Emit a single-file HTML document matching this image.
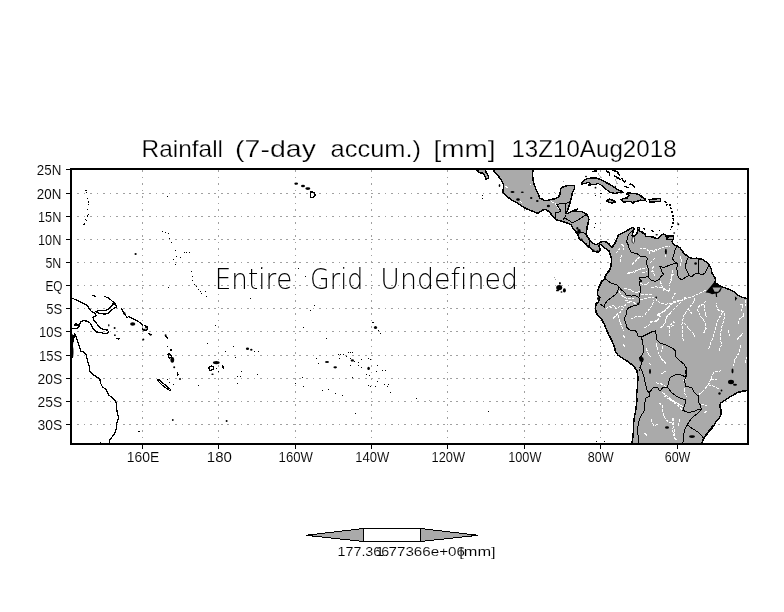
<!DOCTYPE html>
<html lang="en">
<head>
<meta charset="utf-8">
<title>Rainfall (7-day accum.) [mm] 13Z10Aug2018</title>
<style>
html,body{margin:0;padding:0;background:#fff;}
body{width:784px;height:612px;overflow:hidden;}
svg{display:block;}
text{font-family:"Liberation Sans","DejaVu Sans",sans-serif;fill:#000;font-variant-ligatures:none;font-kerning:none;}
.thin{font-family:"DejaVu Sans Light","DejaVu Sans","Liberation Sans",sans-serif;font-weight:200;}
.lab{stroke:#fff;stroke-width:0.1px;}
.ttl{stroke:#fff;stroke-width:0.25px;}
.coast{fill:none;stroke:#000;stroke-width:1.5;stroke-linejoin:round;stroke-linecap:round;}
.wp{fill:none;stroke:#000;stroke-width:1.25;stroke-linejoin:round;}
.bord{fill:none;stroke:#000;stroke-width:1;stroke-linejoin:round;}
.riv{fill:none;stroke:#fff;stroke-width:1;stroke-linejoin:round;stroke-dasharray:3 1;}
.land{fill:#aaaaaa;stroke:none;}
.grid{stroke:#a0a0a0;stroke-width:1;stroke-dasharray:1.75 4.793;fill:none;}
</style>
</head>
<body>
<svg width="784" height="612" viewBox="0 0 784 612">
<rect x="0" y="0" width="784" height="612" fill="#fff"/>
<defs><clipPath id="pc"><rect x="72" y="170" width="675" height="273"/></clipPath></defs>
<g class="grid" shape-rendering="crispEdges">
<line x1="77" y1="193.5" x2="747" y2="193.5"/>
<line x1="77" y1="216.5" x2="747" y2="216.5"/>
<line x1="77" y1="239.5" x2="747" y2="239.5"/>
<line x1="77" y1="262.5" x2="747" y2="262.5"/>
<line x1="77" y1="285.5" x2="747" y2="285.5"/>
<line x1="77" y1="308.5" x2="747" y2="308.5"/>
<line x1="77" y1="331.5" x2="747" y2="331.5"/>
<line x1="77" y1="355.5" x2="747" y2="355.5"/>
<line x1="77" y1="378.5" x2="747" y2="378.5"/>
<line x1="77" y1="401.5" x2="747" y2="401.5"/>
<line x1="77" y1="424.5" x2="747" y2="424.5"/>
<line x1="142.5" y1="170" x2="142.5" y2="443" stroke-dasharray="1.5 5"/>
<line x1="218.5" y1="170" x2="218.5" y2="443" stroke-dasharray="1.5 5"/>
<line x1="295.5" y1="170" x2="295.5" y2="443" stroke-dasharray="1.5 5"/>
<line x1="371.5" y1="170" x2="371.5" y2="443" stroke-dasharray="1.5 5"/>
<line x1="447.5" y1="170" x2="447.5" y2="443" stroke-dasharray="1.5 5"/>
<line x1="524.5" y1="170" x2="524.5" y2="443" stroke-dasharray="1.5 5"/>
<line x1="600.5" y1="170" x2="600.5" y2="443" stroke-dasharray="1.5 5"/>
<line x1="677.5" y1="170" x2="677.5" y2="443" stroke-dasharray="1.5 5"/>
</g>
<g clip-path="url(#pc)">
<g class="land">
<polygon points="493.0,168.0 493.0,169.8 495.5,172.7 498.7,176.5 501.3,180.3 503.4,184.1 503.4,188.6 502.5,191.1 503.8,193.7 506.4,195.6 508.3,197.5 510.8,199.4 514.0,201.4 517.2,203.0 520.4,205.2 523.6,207.1 526.8,209.0 530.0,210.3 533.8,211.6 536.3,212.8 538.5,213.2 540.5,211.5 542.5,210.0 545.0,209.4 547.5,210.5 549.5,212.3 551.5,214.6 553.1,216.5 554.6,218.4 556.9,219.9 560.0,220.7 562.7,221.5 564.6,222.2 566.9,223.0 569.6,223.8 571.5,225.3 572.6,227.9 574.9,230.6 577.1,233.3 578.5,236.0 578.9,238.2 580.7,240.0 583.4,241.8 586.1,244.1 587.5,246.3 589.7,247.7 591.5,249.0 592.9,251.2 595.5,251.7 598.7,252.1 600.5,250.3 599.6,248.1 598.7,245.9 600.5,244.5 603.0,246.5 605.4,248.5 607.7,250.0 609.0,250.5 609.5,252.6 610.4,255.3 611.3,258.4 611.3,262.0 611.0,265.6 610.4,268.3 609.0,271.0 608.3,271.6 606.4,274.1 605.1,276.7 604.2,279.2 601.9,281.1 600.0,284.9 598.3,288.8 597.4,292.6 597.4,295.0 600.0,297.6 598.7,301.4 596.1,303.9 595.5,307.8 596.1,312.9 598.7,316.0 601.9,319.9 604.4,324.3 606.4,329.4 608.3,333.9 610.8,338.4 612.7,342.8 614.6,347.3 615.3,351.1 617.8,355.0 622.3,358.1 627.4,361.3 632.5,365.2 634.8,367.8 637.0,370.8 638.0,377.2 637.6,383.6 637.2,390.0 636.4,395.1 637.0,400.2 636.4,405.3 635.5,411.6 634.2,418.0 633.4,424.4 633.4,430.8 632.9,437.2 631.9,443.5 631.8,446.0 701.5,446.0 701.9,442.9 703.2,439.7 705.1,436.5 707.6,433.3 710.8,429.5 714.0,425.7 715.9,421.8 719.1,418.0 721.0,414.8 721.0,410.4 719.7,405.9 721.0,402.7 724.2,400.8 728.7,397.6 733.1,395.1 737.6,392.5 742.7,391.2 747.2,390.6 750.0,390.4 750.0,299.5 747.6,299.0 746.3,298.3 741.8,297.1 738.0,295.2 734.2,292.0 729.1,289.4 724.0,287.5 718.9,285.6 715.1,282.4 715.7,279.2 713.8,276.0 711.9,272.8 711.2,269.0 709.3,265.2 706.1,262.0 702.3,259.4 697.2,258.2 692.1,258.4 688.3,256.9 684.4,253.7 681.9,250.5 680.0,247.9 677.4,246.1 674.7,245.2 672.9,243.8 672.0,241.6 673.3,239.3 673.3,235.7 669.3,236.2 667.5,238.0 666.2,236.6 664.8,234.4 662.1,234.8 660.3,236.6 658.5,238.4 655.8,238.4 653.1,237.1 649.5,236.6 645.9,236.2 645.0,233.9 642.3,232.6 639.7,231.2 639.2,227.2 637.4,227.6 637.9,229.9 637.0,233.5 634.5,236.0 632.0,235.7 632.9,232.6 634.3,228.5 632.5,227.6 630.2,228.5 627.5,230.3 624.4,232.1 621.7,233.5 618.5,234.8 617.1,238.5 615.8,241.8 614.0,244.5 612.2,247.2 610.8,246.8 609.5,244.5 607.2,242.3 604.5,241.5 601.4,241.8 599.1,243.2 596.4,244.5 594.2,244.1 592.0,242.3 589.7,240.0 587.9,237.3 586.1,234.6 586.6,231.5 587.0,227.0 588.0,224.2 588.4,221.5 588.8,219.2 588.4,216.9 587.2,214.9 585.3,213.4 583.0,212.1 580.7,211.3 577.6,211.5 574.6,211.5 576.1,210.3 577.6,209.2 575.3,209.6 573.0,211.1 570.7,211.9 568.4,213.0 566.1,213.8 566.9,211.5 568.0,209.2 568.8,206.9 569.6,204.6 570.3,202.3 570.7,200.0 571.5,197.7 571.9,195.4 572.3,193.1 573.4,191.1 574.2,189.2 574.6,186.9 573.8,185.5 570.7,185.4 567.6,185.5 564.6,186.5 561.9,187.3 560.6,188.8 560.4,191.5 560.0,194.2 558.8,196.5 556.9,198.0 553.8,199.0 550.8,199.6 547.7,200.4 544.6,200.7 542.3,199.2 540.0,198.4 538.9,195.6 537.3,192.4 535.7,188.6 534.4,184.8 533.4,181.6 532.8,177.8 532.5,173.9 533.1,169.8 533.1,168.0"/>
<polygon points="477.0,168.0 477.0,170.0 479.6,172.7 482.8,173.3 484.7,175.8 486.0,179.0 488.5,178.4 488.5,175.8 486.6,173.3 485.3,170.0 485.3,168.0"/>
<polygon points="581.3,184.1 583.6,180.6 587.6,178.6 592.2,177.8 597.4,178.3 602.0,180.1 606.0,182.4 610.0,184.6 613.5,186.9 616.9,189.2 620.9,191.0 623.2,192.3 623.2,192.3 619.8,192.7 615.2,193.3 610.6,192.7 607.7,190.4 604.3,188.1 601.4,185.2 598.0,183.5 595.1,184.6 591.1,184.1 588.2,182.4 585.3,183.5 581.3,184.1"/>
<polygon points="606.6,200.7 609.4,199.2 612.9,200.1 615.2,201.9 612.3,203.0 608.9,202.4"/>
<polygon points="620.9,199.6 624.4,198.4 627.2,197.9 629.0,195.6 626.7,193.8 628.4,192.7 632.4,193.5 637.0,193.8 640.4,195.6 642.7,197.3 645.0,199.0 643.9,200.7 640.4,200.1 637.0,201.3 634.1,201.9 633.0,203.6 631.8,201.9 628.4,201.3 625.5,201.9 623.2,201.9"/>
<polygon points="649.1,199.6 660.5,198.4 660.5,201.3 649.6,202.2"/>
</g>
<ellipse cx="633.3" cy="240" rx="1.3" ry="3.2" fill="#fff" stroke="#000" stroke-width="0.8"/>
<g class="riv" shape-rendering="crispEdges">
<polyline points="529.9,184.1 531.2,185.4"/>
<polyline points="505.7,186.0 508.3,188.6"/>
<polyline points="519.7,200.7 522.3,203.3"/>
<polyline points="551.5,201.5 555.4,203.8 559.2,209.2"/>
<polyline points="621.7,244.3 623.5,246.1 623.5,250.1"/>
<polyline points="621.2,255.0 620.8,259.5 620.6,263.1"/>
<polyline points="616.3,253.2 619.0,249.6 620.3,247.9"/>
<polyline points="639.6,248.3 643.2,249.2 645.9,247.9 647.7,250.1 651.3,250.6 654.9,250.1 657.6,249.6 660.3,248.3 663.9,247.0 667.5,246.5 670.2,246.1"/>
<polyline points="665.7,254.1 665.3,256.8"/>
<polyline points="649.0,250.6 649.5,254.6"/>
<polyline points="632.0,264.5 635.2,261.3 638.8,257.7 640.5,256.4"/>
<polyline points="627.4,274.1 633.8,271.6 641.4,268.4 647.8,267.7"/>
<polyline points="650.0,263.0 653.0,260.0 656.0,257.5"/>
<polyline points="655.0,276.0 652.0,270.0 654.0,265.0"/>
<polyline points="671.0,281.0 671.7,276.0 673.0,269.6"/>
<polyline points="680.0,255.6 681.3,260.7 680.6,267.1"/>
<polyline points="652.0,252.0 657.0,250.0"/>
<polyline points="627.1,274.1 629.7,272.1 633.8,272.6 636.8,270.6 640.9,269.0"/>
<polyline points="641.9,272.6 645.0,272.1 647.0,271.1"/>
<polyline points="651.1,271.1 654.2,271.6"/>
<polyline points="639.9,283.8 644.0,284.3 647.0,284.8 648.6,282.3"/>
<polyline points="651.1,287.4 656.2,286.9 661.3,287.4 665.4,289.4 669.5,291.5"/>
<polyline points="669.5,291.5 669.0,286.4 670.5,281.3 672.0,276.2 674.6,273.1"/>
<polyline points="623.6,288.4 627.6,288.9 630.7,289.9 633.8,292.0 636.8,292.5 639.9,291.0"/>
<polyline points="640.9,294.5 645.0,294.0 649.1,294.5 653.1,295.0"/>
<polyline points="639.9,300.1 644.0,299.1 648.0,298.1 652.1,297.1 655.2,297.6 657.2,300.7 661.3,303.2 666.4,304.2 670.5,303.2 676.0,302.2 682.0,300.0 688.0,298.0 694.0,296.0 700.0,293.0 706.0,290.0"/>
<polyline points="619.0,291.5 621.0,295.0 624.6,297.6 628.7,298.6 633.8,298.1"/>
<polyline points="625.1,300.7 629.7,301.2 633.8,302.7 636.3,303.7"/>
<polyline points="606.2,308.8 608.8,306.3 611.3,307.3 613.3,305.2 616.4,308.8 620.5,305.8 623.6,307.3 626.6,303.2 630.7,301.7"/>
<polyline points="613.3,318.5 616.4,314.9 620.5,311.9 622.5,308.8"/>
<polyline points="617.9,314.9 619.0,319.0 620.5,323.1 622.0,327.2 623.5,331.0"/>
<polyline points="630.7,319.0 634.8,317.0 638.9,316.5 642.9,316.0"/>
<polyline points="645.0,314.4 648.0,310.9 651.1,306.8 653.1,302.7 654.2,299.6"/>
<polyline points="657.2,316.0 661.3,312.9 665.4,310.9 667.4,307.8 669.5,304.7"/>
<polyline points="644.0,327.7 648.0,326.2 650.1,323.1 654.2,321.1 657.2,320.6 659.3,319.0"/>
<polyline points="660.3,328.2 663.3,325.1 665.4,321.1 666.4,317.0 669.5,313.9 672.5,312.9"/>
<polyline points="667.4,326.2 670.5,327.2 673.6,325.1"/>
<polyline points="672.0,298.6 674.1,294.5 676.0,292.5"/>
<polyline points="623.0,335.0 625.0,338.0"/>
<polyline points="623.0,344.0 625.5,347.5"/>
<polyline points="660.0,281.0 662.0,286.0 664.0,292.0"/>
<polyline points="650.0,321.8 656.4,321.8 660.2,316.7 657.7,314.1 662.8,311.6 669.1,306.5 674.2,301.4 681.9,300.1 685.7,296.9"/>
<polyline points="665.3,323.1 666.6,316.7 670.4,312.9 675.5,307.8 679.3,303.9 683.2,300.1"/>
<polyline points="683.2,340.9 682.5,333.3 681.9,324.3 683.8,315.4 688.3,309.0 693.4,302.7 695.3,297.6"/>
<polyline points="675.5,323.1 673.0,321.8 669.1,326.9 669.8,335.8"/>
<polyline points="688.3,309.0 692.1,314.1"/>
<polyline points="684.4,323.1 688.3,328.2 693.4,333.3 694.6,337.1"/>
<polyline points="703.6,333.3 706.1,328.2 704.8,321.8 701.0,316.7 697.8,310.3 698.5,306.5 703.6,303.9 706.1,300.1"/>
<polyline points="704.2,304.6 704.8,310.3 706.1,316.7"/>
<polyline points="708.7,348.6 712.5,338.4 715.1,329.4 717.6,320.5 721.4,314.1 723.3,311.6 717.6,309.7 716.3,302.7"/>
<polyline points="718.9,351.1 721.4,344.7 720.2,337.1 721.4,328.2 724.0,319.2 724.0,312.9"/>
<polyline points="733.5,366.4 734.8,360.0 739.3,352.4 740.6,344.7"/>
<polyline points="736.7,339.6 743.1,333.3"/>
<polyline points="738.0,324.3 739.3,319.2 744.4,315.4 741.8,310.3 743.1,303.9 739.3,305.2"/>
<polyline points="745.0,363.0 747.0,357.0"/>
<polyline points="656.4,343.5 657.7,351.1 661.5,358.8 666.6,363.9"/>
<polyline points="662.8,346.0 661.5,352.4"/>
<polyline points="646.0,348.0 648.0,353.0 650.5,357.0"/>
<polyline points="649.0,363.0 652.0,366.0"/>
<polyline points="661.2,374.0 666.3,370.8"/>
<polyline points="656.1,382.9 662.5,384.2 666.3,386.8"/>
<polyline points="662.5,392.5 668.9,397.6 675.3,402.1 682.9,406.5"/>
<polyline points="663.8,395.7 671.4,400.8 679.1,406.5 682.9,410.4"/>
<polyline points="658.7,402.7 662.5,405.3 662.5,411.6 665.0,418.0 668.9,423.1 671.4,421.8 674.0,418.0"/>
<polyline points="651.0,419.3 653.6,425.7 658.7,424.4"/>
<polyline points="671.4,421.8 674.0,428.2 674.0,435.9 676.5,440.3"/>
<polyline points="644.6,433.3 648.5,436.5"/>
<polyline points="699.3,394.4 703.8,390.0 708.3,384.9 710.8,379.8 712.1,374.7 714.6,372.1 721.0,370.8"/>
<polyline points="710.8,379.8 717.2,379.1"/>
<polyline points="708.3,384.9 713.4,386.1 718.5,388.7"/>
<polyline points="701.3,404.6 707.0,405.3"/>
<polyline points="704.4,412.3 707.0,411.6"/>
<polyline points="670.0,398.9 676.4,402.7 682.8,406.5"/>
<polyline points="672.6,418.0 673.8,423.1 672.6,430.8 675.1,439.7"/>
<polyline points="679.6,419.3 677.7,426.9"/>
<polyline points="683.0,381.0 686.0,379.0"/>
<polyline points="684.5,388.5 685.0,394.0 687.0,396.5"/>
<polyline points="728.0,330.0 730.0,336.0"/>
<polyline points="745.0,300.0 746.0,306.0"/>
</g>
<g class="bord" shape-rendering="crispEdges">
<polyline points="555.0,217.6 555.0,213.0 560.4,211.5 560.4,210.0 556.5,204.2 565.3,203.4"/>
<polyline points="565.3,203.4 565.3,213.8"/>
<polyline points="565.3,203.4 567.0,203.0 569.6,201.5"/>
<polyline points="566.1,214.9 564.6,217.6 562.5,220.5"/>
<polyline points="564.6,217.6 567.6,219.9 570.7,221.5 572.3,223.0"/>
<polyline points="572.3,223.0 574.6,221.5 578.4,219.9 581.5,217.6 583.8,216.1 586.9,215.3"/>
<polyline points="577.4,232.6 582.0,232.9 587.0,233.2"/>
<polyline points="589.7,240.0 590.0,244.0 589.7,247.7"/>
<polyline points="626.6,241.6 628.4,245.2 629.3,248.8 631.1,251.9 634.3,253.2 637.9,254.1 640.5,256.4 645.9,256.8 647.3,258.6 646.6,262.2 647.2,266.7 648.0,268.0"/>
<polyline points="618.5,234.8 621.7,233.5 627.5,230.3 632.5,227.6 634.3,228.5 630.2,232.6 628.4,234.8 627.5,238.0 626.6,241.6"/>
<polyline points="648.0,268.0 649.1,274.1 648.0,276.7 639.9,277.7 639.9,279.2 641.9,281.8 639.9,281.3 639.4,284.3 640.9,288.4 639.9,293.5 638.9,297.6"/>
<polyline points="605.2,278.7 609.3,281.8 612.3,283.8 616.4,284.3 618.4,286.4"/>
<polyline points="618.4,286.4 621.5,289.9 624.6,292.5 626.6,295.6 631.7,296.1 635.3,295.6 638.9,297.6"/>
<polyline points="618.4,286.4 617.9,291.5 615.4,294.5 611.3,297.6 607.2,300.7 605.2,303.7 604.2,307.3 600.5,304.0"/>
<polyline points="638.9,297.6 639.4,300.7 638.9,304.2 636.8,305.2 631.7,306.3 628.1,308.3 626.6,310.9 626.1,314.9 624.6,318.0 625.1,322.1 626.6,325.1 626.8,327.5 629.9,330.1 635.0,330.7 637.0,332.6 637.0,335.8 641.4,337.1 646.5,334.5 651.6,332.0 655.7,330.7"/>
<polyline points="655.7,330.7 656.4,339.0 659.6,342.8 665.3,344.7 670.4,347.3 674.9,349.8 676.1,357.5 680.6,361.3 684.4,364.5 686.4,369.0 685.5,372.0 686.7,376.6"/>
<polyline points="641.4,337.1 642.7,342.2 643.3,347.3 643.3,352.4 641.4,356.2 639.5,358.1 642.7,360.7 641.4,363.9 640.2,367.7 639.5,371.0"/>
<polyline points="639.5,367.0 642.1,370.8 644.0,377.2 645.3,383.6 647.2,390.6 649.1,392.5 649.1,396.3 645.3,398.3 644.9,404.0 644.6,410.4 642.1,414.2 639.5,419.3 638.3,424.4 637.0,430.8 638.3,436.5 638.9,445.0"/>
<polyline points="649.1,392.5 653.6,387.4 658.0,388.0 659.9,391.2 662.5,388.0 667.6,387.4"/>
<polyline points="667.6,387.4 668.9,381.0 670.2,377.2 675.3,374.9 680.4,374.7 684.8,376.6"/>
<polyline points="686.0,367.0 686.6,373.4 684.7,379.8 685.3,386.1 692.3,388.0 694.2,392.5 698.1,395.7 698.7,402.7 700.6,405.3 701.2,409.7"/>
<polyline points="667.6,387.4 671.4,392.5 677.7,397.0 686.0,400.2 684.7,405.3 682.8,410.4 687.9,412.3 694.2,411.6 698.7,409.1 701.2,409.7"/>
<polyline points="701.2,409.7 697.4,413.6 693.0,416.7 689.1,421.8 687.2,425.0 684.7,429.5 683.4,435.9 682.8,445.0"/>
<polyline points="687.2,425.0 693.0,428.9 698.7,432.7 701.9,435.9 703.4,438.4"/>
<polyline points="676.9,246.1 675.1,249.6 674.2,253.2 672.3,258.8 674.9,262.0 677.4,263.3"/>
<polyline points="677.4,263.3 676.8,268.4 677.4,273.5 678.7,277.9 681.9,279.8 685.7,277.3 688.9,275.4"/>
<polyline points="688.3,256.9 686.4,262.0 685.1,267.1 687.6,272.2 688.9,275.4"/>
<polyline points="688.9,275.4 692.1,276.7 694.0,274.1 698.5,273.5"/>
<polyline points="699.1,258.8 698.5,263.3 698.5,268.4 698.5,273.5"/>
<polyline points="698.5,273.5 702.3,274.7 705.5,272.8 706.8,269.0 709.3,265.2"/>
<polyline points="677.4,263.3 673.0,263.9 667.9,265.8 663.4,267.7 658.9,265.8 660.8,268.0 661.3,271.1 663.9,274.6 661.3,276.2 659.3,279.2 655.2,281.3 651.1,280.2 648.0,276.7"/>
</g>
<g class="coast" shape-rendering="crispEdges">
<polyline points="493.0,168.0 493.0,169.8 495.5,172.7 498.7,176.5 501.3,180.3 503.4,184.1 503.4,188.6 502.5,191.1 503.8,193.7 506.4,195.6 508.3,197.5 510.8,199.4 514.0,201.4 517.2,203.0 520.4,205.2 523.6,207.1 526.8,209.0 530.0,210.3 533.8,211.6 536.3,212.8 538.5,213.2 540.5,211.5 542.5,210.0 545.0,209.4 547.5,210.5 549.5,212.3 551.5,214.6 553.1,216.5 554.6,218.4 556.9,219.9 560.0,220.7 562.7,221.5 564.6,222.2 566.9,223.0 569.6,223.8 571.5,225.3 572.6,227.9 574.9,230.6 577.1,233.3 578.5,236.0 578.9,238.2 580.7,240.0 583.4,241.8 586.1,244.1 587.5,246.3 589.7,247.7 591.5,249.0 592.9,251.2 595.5,251.7 598.7,252.1 600.5,250.3 599.6,248.1 598.7,245.9 600.5,244.5 603.0,246.5 605.4,248.5 607.7,250.0 609.0,250.5 609.5,252.6 610.4,255.3 611.3,258.4 611.3,262.0 611.0,265.6 610.4,268.3 609.0,271.0 608.3,271.6 606.4,274.1 605.1,276.7 604.2,279.2 601.9,281.1 600.0,284.9 598.3,288.8 597.4,292.6 597.4,295.0 600.0,297.6 598.7,301.4 596.1,303.9 595.5,307.8 596.1,312.9 598.7,316.0 601.9,319.9 604.4,324.3 606.4,329.4 608.3,333.9 610.8,338.4 612.7,342.8 614.6,347.3 615.3,351.1 617.8,355.0 622.3,358.1 627.4,361.3 632.5,365.2 634.8,367.8 637.0,370.8 638.0,377.2 637.6,383.6 637.2,390.0 636.4,395.1 637.0,400.2 636.4,405.3 635.5,411.6 634.2,418.0 633.4,424.4 633.4,430.8 632.9,437.2 631.9,443.5 631.8,446.0"/>
<polyline points="701.5,446.0 701.9,442.9 703.2,439.7 705.1,436.5 707.6,433.3 710.8,429.5 714.0,425.7 715.9,421.8 719.1,418.0 721.0,414.8 721.0,410.4 719.7,405.9 721.0,402.7 724.2,400.8 728.7,397.6 733.1,395.1 737.6,392.5 742.7,391.2 747.2,390.6 750.0,390.4"/>
<polyline points="750.0,299.5 747.6,299.0 746.3,298.3 741.8,297.1 738.0,295.2 734.2,292.0 729.1,289.4 724.0,287.5 718.9,285.6 715.1,282.4 715.7,279.2 713.8,276.0 711.9,272.8 711.2,269.0 709.3,265.2 706.1,262.0 702.3,259.4 697.2,258.2 692.1,258.4 688.3,256.9 684.4,253.7 681.9,250.5 680.0,247.9 677.4,246.1 674.7,245.2 672.9,243.8 672.0,241.6 673.3,239.3 673.3,235.7 669.3,236.2 667.5,238.0 666.2,236.6 664.8,234.4 662.1,234.8 660.3,236.6 658.5,238.4 655.8,238.4 653.1,237.1 649.5,236.6 645.9,236.2 645.0,233.9 642.3,232.6 639.7,231.2 639.2,227.2 637.4,227.6 637.9,229.9 637.0,233.5 634.5,236.0 632.0,235.7 632.9,232.6 634.3,228.5 632.5,227.6 630.2,228.5 627.5,230.3 624.4,232.1 621.7,233.5 618.5,234.8 617.1,238.5 615.8,241.8 614.0,244.5 612.2,247.2 610.8,246.8 609.5,244.5 607.2,242.3 604.5,241.5 601.4,241.8 599.1,243.2 596.4,244.5 594.2,244.1 592.0,242.3 589.7,240.0 587.9,237.3 586.1,234.6 586.6,231.5 587.0,227.0 588.0,224.2 588.4,221.5 588.8,219.2 588.4,216.9 587.2,214.9 585.3,213.4 583.0,212.1 580.7,211.3 577.6,211.5 574.6,211.5 576.1,210.3 577.6,209.2 575.3,209.6 573.0,211.1 570.7,211.9 568.4,213.0 566.1,213.8 566.9,211.5 568.0,209.2 568.8,206.9 569.6,204.6 570.3,202.3 570.7,200.0 571.5,197.7 571.9,195.4 572.3,193.1 573.4,191.1 574.2,189.2 574.6,186.9 573.8,185.5 570.7,185.4 567.6,185.5 564.6,186.5 561.9,187.3 560.6,188.8 560.4,191.5 560.0,194.2 558.8,196.5 556.9,198.0 553.8,199.0 550.8,199.6 547.7,200.4 544.6,200.7 542.3,199.2 540.0,198.4 538.9,195.6 537.3,192.4 535.7,188.6 534.4,184.8 533.4,181.6 532.8,177.8 532.5,173.9 533.1,169.8 533.1,168.0"/>
<polyline points="477.0,168.0 477.0,170.0 479.6,172.7 482.8,173.3 484.7,175.8 486.0,179.0 488.5,178.4 488.5,175.8 486.6,173.3 485.3,170.0 485.3,168.0"/>
<polyline points="581.3,184.1 583.6,180.6 587.6,178.6 592.2,177.8 597.4,178.3 602.0,180.1 606.0,182.4 610.0,184.6 613.5,186.9 616.9,189.2 620.9,191.0 623.2,192.3"/>
<polyline points="712.6,426.2 709.2,430.6 705.8,435.0 703.0,439.6"/>
<polyline points="592.8,171.4 596.2,170.9"/>
<polyline points="606.6,170.9 609.4,173.2 609.4,175.5"/>
<polyline points="612.9,170.3 617.5,172.0 619.2,174.9"/>
<polyline points="614.6,176.0 620.4,179.5"/>
<polyline points="622.1,178.9 624.4,182.4 625.5,180.6"/>
<polyline points="624.9,186.4 627.8,187.5"/>
<polyline points="630.1,184.1 633.0,185.2 634.7,186.9"/>
<polyline points="588.2,185.2 590.5,185.2"/>
<polygon points="606.6,200.7 609.4,199.2 612.9,200.1 615.2,201.9 612.3,203.0 608.9,202.4"/>
<polygon points="620.9,199.6 624.4,198.4 627.2,197.9 629.0,195.6 626.7,193.8 628.4,192.7 632.4,193.5 637.0,193.8 640.4,195.6 642.7,197.3 645.0,199.0 643.9,200.7 640.4,200.1 637.0,201.3 634.1,201.9 633.0,203.6 631.8,201.9 628.4,201.3 625.5,201.9 623.2,201.9"/>
<polygon points="649.1,199.6 660.5,198.4 660.5,201.3 649.6,202.2"/>
</g>
<g class="wp" shape-rendering="crispEdges">
<polyline points="69.0,297.2 71.8,298.2 76.9,300.1 82.0,302.7 87.1,305.2 89.0,308.4 91.6,311.6 95.4,313.5 96.1,316.0 92.9,317.3 93.5,319.9 96.1,322.4 98.0,325.6 100.5,328.2 103.7,329.4 107.5,330.1 108.8,332.6 105.6,333.9 101.2,332.6 96.7,332.0 93.5,329.4 91.6,325.6 89.7,322.4 86.5,321.1 83.3,320.5 80.8,321.8 79.5,325.0 75.7,323.7 74.4,325.0 79.5,326.3 76.9,328.2 72.5,328.4 69.0,328.6"/>
<polyline points="95.4,311.6 99.9,310.3 105.0,310.9 108.8,309.0 112.0,305.8 112.6,303.9 115.8,304.6 116.5,307.1 113.9,308.4 111.4,310.3 108.8,312.9 105.0,314.1 99.9,313.5 95.4,311.6"/>
<polyline points="104.4,296.3 108.8,298.2 112.6,301.4 115.8,304.6"/>
<polyline points="91.6,295.3 96.0,296.3"/>
<polyline points="121.6,308.4 123.5,312.9 126.0,316.0 127.3,318.0"/>
<polyline points="127.9,316.0 131.8,318.0 136.9,320.5 140.7,323.1 142.6,325.6"/>
<polyline points="142.0,328.8 145.8,330.7 147.7,328.8"/>
<polyline points="144.5,325.0 147.1,326.9 147.7,329.4"/>
<polyline points="148.4,333.3 151.5,335.2"/>
<polyline points="116.5,337.7 118.4,339.4 120.5,337.7"/>
<polyline points="74.4,333.3 75.7,335.8 76.9,339.0 78.2,343.5 79.5,347.3 80.8,351.1 83.3,351.8 85.9,354.3 87.1,358.8 88.4,363.9 89.4,367.0 89.7,371.5 92.2,374.0 96.1,376.6 99.9,379.1 100.5,382.9 102.4,386.8 105.6,389.3 107.5,391.9 108.8,395.1 112.0,397.6 115.2,400.8 116.5,404.0 116.5,409.1 117.7,413.6 118.4,418.0 117.1,421.8 116.5,426.3 115.8,430.8 113.9,434.6 111.4,437.8 109.5,440.3 108.8,445.0"/>
<polyline points="74.4,333.3 73.8,338.4 72.5,343.5 72.0,350.0 72.0,358.0"/>
<polyline points="157.4,378.7 160.0,380.5 164.0,384.0 168.0,387.5 171.0,389.9 169.5,390.3 166.0,388.0 162.0,385.0 158.5,381.5 157.4,378.7"/>
<polyline points="165.3,335.0 167.9,339.1"/>
<polyline points="171.0,348.7 171.0,351.3"/>
<polyline points="167.9,353.8 169.1,358.3 171.7,357.0 170.0,354.0 167.9,353.8"/>
<polyline points="177.4,371.7 178.1,375.5"/>
<polyline points="208.7,367.8 211.2,365.9 213.8,367.2 213.1,369.7 209.9,370.4 208.7,367.8"/>
<polyline points="222.7,364.6 223.3,369.1"/>
<polyline points="310.2,191.8 313.7,192.2 315.6,195.2 312.9,197.5 310.2,197.5 310.2,191.8"/>
<polyline points="666.1,236.1 673.2,235.5 673.4,239.3 666.8,239.9 666.1,236.1"/>
<polyline points="642.8,228.5 645.0,229.0"/>
<polyline points="650.9,230.8 654.0,231.2"/>
<polyline points="640.0,196.6 643.8,197.8 645.7,201.0"/>
<polyline points="581.3,184.1 585.3,183.5 588.2,182.4 591.1,184.1 595.1,184.6 598.0,183.5 601.4,185.2 604.3,188.1 607.7,190.4 610.6,192.7 615.2,193.3 619.8,192.7 623.2,192.3"/>
</g>
<g fill="none" stroke="#000" stroke-width="1.6" stroke-dasharray="2.2 1.6" shape-rendering="crispEdges">
<polyline points="664.9,201.0 667.4,205.5"/>
<polyline points="670.0,203.6 670.6,207.4 671.9,210.6 673.2,217.0 673.4,220.8 672.5,225.3 670.6,229.7"/>
</g>
<g fill="#000">
<polygon points="705.5,292.5 708.0,289.5 711.0,286.0 715.4,280.5 716.1,284.0 721.7,286.8 721.7,288.2 720.3,291.5 718.2,293.0 716.8,293.5 717.2,297.0 716.0,297.0 715.6,293.6 712.0,294.2 710.0,293.2 708.0,292.8"/>
<polygon points="734.8,296.2 737.3,298.3 735.0,301.0 735.0,297.0"/>
</g>
<g fill="#aaaaaa">
<polygon points="712.5,287.4 721.0,287.4 718.2,291.8 714.6,291.8"/>
</g>
<g fill="#000">
<ellipse cx="581.4" cy="239.8" rx="1.3" ry="1.3"/>
<ellipse cx="588.3" cy="246.2" rx="1.4" ry="1.3"/>
<ellipse cx="593.5" cy="250.6" rx="1.2" ry="1"/>
<ellipse cx="597.5" cy="251.2" rx="1.2" ry="0.9"/>
<ellipse cx="512.5" cy="192" rx="2" ry="1"/>
<ellipse cx="522.3" cy="192.2" rx="1.5" ry="0.7"/>
<ellipse cx="518" cy="199.5" rx="1.8" ry="1.2"/>
<ellipse cx="531.2" cy="198" rx="1.2" ry="1"/>
<ellipse cx="537.3" cy="201" rx="1.3" ry="1"/>
<ellipse cx="548.4" cy="206" rx="1.6" ry="1.2"/>
<ellipse cx="499.5" cy="185.5" rx="0.8" ry="1.6"/>
<ellipse cx="579" cy="231.5" rx="1.8" ry="2.4"/>
<ellipse cx="577.3" cy="228.3" rx="1" ry="1.2"/>
<ellipse cx="615.3" cy="186.6" rx="0.8" ry="0.8"/>
<ellipse cx="665.9" cy="251.6" rx="1" ry="2.8"/>
<ellipse cx="695.6" cy="263.5" rx="1.3" ry="1.2"/>
<ellipse cx="641.5" cy="359.5" rx="2.2" ry="2.4"/>
<ellipse cx="650" cy="371.5" rx="1" ry="2.4"/>
<ellipse cx="667" cy="427.5" rx="2" ry="1.3"/>
<ellipse cx="692" cy="436.6" rx="3" ry="1.3"/>
<ellipse cx="732.5" cy="371" rx="1" ry="2.4"/>
<ellipse cx="731" cy="382" rx="3" ry="2.2"/>
<ellipse cx="735" cy="384.8" rx="2" ry="1"/>
<ellipse cx="719.5" cy="393.5" rx="1.2" ry="1.2"/>
<ellipse cx="721.5" cy="390.5" rx="0.9" ry="0.9"/>
<ellipse cx="598.2" cy="298.5" rx="1.2" ry="1.6"/>
<ellipse cx="656.2" cy="297.6" rx="0.9" ry="1.1"/>
<ellipse cx="638.3" cy="303.7" rx="1.2" ry="1.2"/>
<ellipse cx="172.8" cy="420" rx="0.9" ry="0.9"/>
<ellipse cx="226.6" cy="421" rx="1" ry="1"/>
<ellipse cx="144" cy="329.8" rx="1.8" ry="1.1"/>
<ellipse cx="124.5" cy="313.5" rx="1" ry="1.6"/>
<ellipse cx="146.2" cy="327.2" rx="1" ry="1.4"/>
<ellipse cx="132.7" cy="324" rx="2.6" ry="1.8"/>
<ellipse cx="172.3" cy="359.8" rx="1.9" ry="2.9"/>
<ellipse cx="216.3" cy="362.6" rx="3.4" ry="1.6"/>
<ellipse cx="212.5" cy="374.2" rx="1.2" ry="0.8"/>
<ellipse cx="174.2" cy="367.2" rx="1" ry="1"/>
<ellipse cx="180" cy="378.9" rx="1" ry="1"/>
<ellipse cx="559.2" cy="287.6" rx="3" ry="2.6"/>
<ellipse cx="559.9" cy="283.2" rx="0.9" ry="1.3"/>
<ellipse cx="564.4" cy="290.4" rx="1.5" ry="2.1"/>
<ellipse cx="557.5" cy="290.4" rx="1.5" ry="0.9"/>
<ellipse cx="561.5" cy="292" rx="1" ry="0.7"/>
<ellipse cx="375.5" cy="327.6" rx="1.6" ry="1.5"/>
<ellipse cx="296.2" cy="183.6" rx="1.9" ry="1.2"/>
<ellipse cx="303" cy="186" rx="2" ry="1.2"/>
<ellipse cx="307.8" cy="188.6" rx="2.5" ry="1.4"/>
<ellipse cx="251.3" cy="349.7" rx="1.2" ry="1"/>
<ellipse cx="247.5" cy="348.7" rx="1.6" ry="1.2"/>
<ellipse cx="143.3" cy="339.6" rx="1" ry="1"/>
<ellipse cx="114.6" cy="327.9" rx="1" ry="1"/>
<ellipse cx="114.9" cy="335.2" rx="0.9" ry="0.9"/>
<ellipse cx="165.6" cy="335.2" rx="1" ry="1"/>
<ellipse cx="150.6" cy="334.7" rx="1" ry="1"/>
<ellipse cx="135.6" cy="254" rx="1.1" ry="1.1"/>
<ellipse cx="678.3" cy="224.3" rx="1" ry="1"/>
<ellipse cx="674.2" cy="233" rx="1" ry="0.8"/>
<ellipse cx="656.7" cy="234.8" rx="1.2" ry="0.8"/>
<ellipse cx="352.4" cy="360.4" rx="1.6" ry="1.2"/>
<ellipse cx="368.6" cy="368.4" rx="1.3" ry="1.6"/>
<ellipse cx="327" cy="362" rx="2" ry="1.1"/>
<ellipse cx="335.2" cy="367.3" rx="1.8" ry="1.1"/>
<ellipse cx="595.5" cy="187.7" rx="0.9" ry="0.9"/>
<ellipse cx="586" cy="176.5" rx="1" ry="0.7"/>
<ellipse cx="108.8" cy="325.2" rx="0.6" ry="1.2"/>
<ellipse cx="72.2" cy="340" rx="1.2" ry="6"/>
<ellipse cx="72.5" cy="352" rx="1" ry="6"/>
</g>
<g fill="#000" shape-rendering="crispEdges">
<rect x="85" y="190" width="1" height="1"/>
<rect x="86" y="190" width="1" height="1"/>
<rect x="86" y="192" width="1" height="1"/>
<rect x="87" y="198" width="1" height="1"/>
<rect x="88" y="201" width="1" height="1"/>
<rect x="88" y="202" width="1" height="1"/>
<rect x="88" y="204" width="1" height="1"/>
<rect x="87" y="209" width="1" height="1"/>
<rect x="88" y="214" width="1" height="1"/>
<rect x="87" y="215" width="1" height="1"/>
<rect x="87" y="216" width="1" height="1"/>
<rect x="85" y="219" width="1" height="1"/>
<rect x="86" y="220" width="1" height="1"/>
<rect x="84" y="223" width="1" height="1"/>
<rect x="83" y="224" width="1" height="1"/>
<rect x="84" y="224" width="1" height="1"/>
<rect x="167" y="196" width="1" height="1"/>
<rect x="162" y="231" width="1" height="1"/>
<rect x="165" y="232" width="1" height="1"/>
<rect x="168" y="233" width="1" height="1"/>
<rect x="169" y="238" width="1" height="1"/>
<rect x="171" y="242" width="1" height="1"/>
<rect x="175" y="250" width="1" height="1"/>
<rect x="176" y="256" width="1" height="1"/>
<rect x="173" y="259" width="1" height="1"/>
<rect x="175" y="264" width="1" height="1"/>
<rect x="180" y="257" width="1" height="1"/>
<rect x="184" y="252" width="1" height="1"/>
<rect x="186" y="252" width="1" height="1"/>
<rect x="189" y="252" width="1" height="1"/>
<rect x="191" y="271" width="1" height="1"/>
<rect x="192" y="276" width="1" height="1"/>
<rect x="192" y="280" width="1" height="1"/>
<rect x="194" y="284" width="1" height="1"/>
<rect x="196" y="286" width="1" height="1"/>
<rect x="198" y="289" width="1" height="1"/>
<rect x="200" y="291" width="1" height="1"/>
<rect x="201" y="293" width="1" height="1"/>
<rect x="205" y="291" width="1" height="1"/>
<rect x="206" y="296" width="1" height="1"/>
<rect x="168" y="287" width="1" height="1"/>
<rect x="250" y="298" width="1" height="1"/>
<rect x="261" y="268" width="1" height="1"/>
<rect x="298" y="268" width="1" height="1"/>
<rect x="305" y="276" width="1" height="1"/>
<rect x="314" y="305" width="1" height="1"/>
<rect x="310" y="310" width="1" height="1"/>
<rect x="372" y="322" width="1" height="1"/>
<rect x="373" y="322" width="1" height="1"/>
<rect x="303" y="327" width="1" height="1"/>
<rect x="326" y="338" width="1" height="1"/>
<rect x="378" y="330" width="1" height="1"/>
<rect x="380" y="333" width="1" height="1"/>
<rect x="254" y="351" width="1" height="1"/>
<rect x="258" y="351" width="1" height="1"/>
<rect x="257" y="374" width="1" height="1"/>
<rect x="316" y="358" width="1" height="1"/>
<rect x="318" y="363" width="1" height="1"/>
<rect x="338" y="354" width="1" height="1"/>
<rect x="340" y="354" width="1" height="1"/>
<rect x="343" y="354" width="1" height="1"/>
<rect x="346" y="356" width="1" height="1"/>
<rect x="350" y="358" width="1" height="1"/>
<rect x="354" y="361" width="1" height="1"/>
<rect x="358" y="362" width="1" height="1"/>
<rect x="348" y="352" width="1" height="1"/>
<rect x="350" y="352" width="1" height="1"/>
<rect x="352" y="352" width="1" height="1"/>
<rect x="361" y="359" width="1" height="1"/>
<rect x="339" y="358" width="1" height="1"/>
<rect x="350" y="365" width="1" height="1"/>
<rect x="358" y="365" width="1" height="1"/>
<rect x="361" y="367" width="1" height="1"/>
<rect x="368" y="358" width="1" height="1"/>
<rect x="370" y="359" width="1" height="1"/>
<rect x="366" y="374" width="1" height="1"/>
<rect x="369" y="375" width="1" height="1"/>
<rect x="377" y="365" width="1" height="1"/>
<rect x="382" y="370" width="1" height="1"/>
<rect x="385" y="370" width="1" height="1"/>
<rect x="376" y="371" width="1" height="1"/>
<rect x="377" y="381" width="1" height="1"/>
<rect x="368" y="385" width="1" height="1"/>
<rect x="370" y="386" width="1" height="1"/>
<rect x="375" y="386" width="1" height="1"/>
<rect x="384" y="384" width="1" height="1"/>
<rect x="388" y="384" width="1" height="1"/>
<rect x="387" y="386" width="1" height="1"/>
<rect x="390" y="392" width="1" height="1"/>
<rect x="352" y="377" width="1" height="1"/>
<rect x="302" y="377" width="1" height="1"/>
<rect x="295" y="383" width="1" height="1"/>
<rect x="303" y="386" width="1" height="1"/>
<rect x="322" y="390" width="1" height="1"/>
<rect x="328" y="389" width="1" height="1"/>
<rect x="335" y="393" width="1" height="1"/>
<rect x="342" y="395" width="1" height="1"/>
<rect x="355" y="413" width="1" height="1"/>
<rect x="416" y="398" width="1" height="1"/>
<rect x="215" y="325" width="1" height="1"/>
<rect x="207" y="343" width="1" height="1"/>
<rect x="225" y="351" width="1" height="1"/>
<rect x="233" y="346" width="1" height="1"/>
<rect x="235" y="357" width="1" height="1"/>
<rect x="241" y="371" width="1" height="1"/>
<rect x="237" y="376" width="1" height="1"/>
<rect x="240" y="376" width="1" height="1"/>
<rect x="237" y="383" width="1" height="1"/>
<rect x="198" y="385" width="1" height="1"/>
<rect x="167" y="346" width="1" height="1"/>
<rect x="167" y="379" width="1" height="1"/>
<rect x="169" y="382" width="1" height="1"/>
<rect x="173" y="384" width="1" height="1"/>
<rect x="218" y="371" width="1" height="1"/>
<rect x="216" y="368" width="1" height="1"/>
<rect x="138" y="431" width="1" height="1"/>
<rect x="488" y="411" width="1" height="1"/>
<rect x="596" y="441" width="1" height="1"/>
<rect x="604" y="441" width="1" height="1"/>
<rect x="482" y="195" width="1" height="1"/>
<rect x="482" y="198" width="1" height="1"/>
<rect x="604" y="441" width="1" height="1"/>
<rect x="595" y="195" width="1" height="1"/>
<rect x="600" y="193" width="1" height="1"/>
<rect x="601" y="193" width="1" height="1"/>
<rect x="646" y="201" width="1" height="1"/>
<rect x="595" y="223" width="1" height="1"/>
<rect x="594" y="227" width="1" height="1"/>
<rect x="659" y="230" width="1" height="1"/>
<rect x="663" y="233" width="1" height="1"/>
<rect x="642" y="231" width="1" height="1"/>
<rect x="139" y="431" width="1" height="1"/>
<rect x="100" y="442" width="1" height="1"/>
</g>
<g fill="none" stroke="#b8b8b8" stroke-width="1" shape-rendering="crispEdges">
<polyline points="598.5,174.3 602.0,177.8"/>
<polyline points="615.2,178.9 616.9,184.1"/>
</g>
<g fill="#a0a0a0" shape-rendering="crispEdges">
<rect x="429" y="400" width="1" height="1"/>
<rect x="572" y="259" width="1" height="1"/>
<rect x="554" y="277" width="1" height="1"/>
<rect x="555" y="279" width="1" height="1"/>
<rect x="563" y="181" width="1" height="1"/>
<rect x="554" y="192" width="1" height="1"/>
<rect x="598" y="173" width="1" height="1"/>
<rect x="600" y="177" width="1" height="1"/>
<rect x="616" y="178" width="1" height="1"/>
<rect x="617" y="183" width="1" height="1"/>
</g>
</g>
<rect x="71" y="169" width="677" height="275" fill="none" stroke="#000" stroke-width="2" shape-rendering="crispEdges"/>
<g stroke="#000" stroke-width="1" shape-rendering="crispEdges">
<line x1="66" y1="169.5" x2="70" y2="169.5"/>
<line x1="66" y1="193.5" x2="70" y2="193.5"/>
<line x1="66" y1="216.5" x2="70" y2="216.5"/>
<line x1="66" y1="239.5" x2="70" y2="239.5"/>
<line x1="66" y1="262.5" x2="70" y2="262.5"/>
<line x1="66" y1="285.5" x2="70" y2="285.5"/>
<line x1="66" y1="308.5" x2="70" y2="308.5"/>
<line x1="66" y1="331.5" x2="70" y2="331.5"/>
<line x1="66" y1="355.5" x2="70" y2="355.5"/>
<line x1="66" y1="378.5" x2="70" y2="378.5"/>
<line x1="66" y1="401.5" x2="70" y2="401.5"/>
<line x1="66" y1="424.5" x2="70" y2="424.5"/>
<line x1="142.5" y1="445" x2="142.5" y2="449"/>
<line x1="218.5" y1="445" x2="218.5" y2="449"/>
<line x1="295.5" y1="445" x2="295.5" y2="449"/>
<line x1="371.5" y1="445" x2="371.5" y2="449"/>
<line x1="447.5" y1="445" x2="447.5" y2="449"/>
<line x1="524.5" y1="445" x2="524.5" y2="449"/>
<line x1="600.5" y1="445" x2="600.5" y2="449"/>
<line x1="677.5" y1="445" x2="677.5" y2="449"/>
</g>
<g style="filter:opacity(1)">
<text class="lab" x="36.8" y="175.2" font-size="15.4" textLength="24.5" lengthAdjust="spacingAndGlyphs">25N</text>
<text class="lab" x="36.8" y="199.2" font-size="15.4" textLength="24.5" lengthAdjust="spacingAndGlyphs">20N</text>
<text class="lab" x="38.0" y="222.2" font-size="15.4" textLength="23.3" lengthAdjust="spacingAndGlyphs">15N</text>
<text class="lab" x="38.0" y="245.2" font-size="15.4" textLength="23.3" lengthAdjust="spacingAndGlyphs">10N</text>
<text class="lab" x="45.4" y="268.2" font-size="15.4" textLength="15.9" lengthAdjust="spacingAndGlyphs">5N</text>
<text class="lab" x="45.4" y="291.2" font-size="15.4" textLength="17.1" lengthAdjust="spacingAndGlyphs">EQ</text>
<text class="lab" x="46.2" y="314.2" font-size="15.4" textLength="16.0" lengthAdjust="spacingAndGlyphs">5S</text>
<text class="lab" x="38.9" y="337.2" font-size="15.4" textLength="23.3" lengthAdjust="spacingAndGlyphs">10S</text>
<text class="lab" x="38.9" y="361.2" font-size="15.4" textLength="23.3" lengthAdjust="spacingAndGlyphs">15S</text>
<text class="lab" x="37.5" y="384.2" font-size="15.4" textLength="24.7" lengthAdjust="spacingAndGlyphs">20S</text>
<text class="lab" x="37.5" y="407.2" font-size="15.4" textLength="24.7" lengthAdjust="spacingAndGlyphs">25S</text>
<text class="lab" x="37.5" y="430.2" font-size="15.4" textLength="24.7" lengthAdjust="spacingAndGlyphs">30S</text>
<text class="lab" x="126.8" y="462.1" font-size="15.2" textLength="32.5" lengthAdjust="spacingAndGlyphs">160E</text>
<text class="lab" x="206.8" y="462.1" font-size="15.2" textLength="25.1" lengthAdjust="spacingAndGlyphs">180</text>
<text class="lab" x="278.6" y="462.1" font-size="15.2" textLength="34.3" lengthAdjust="spacingAndGlyphs">160W</text>
<text class="lab" x="355.2" y="462.1" font-size="15.2" textLength="34.0" lengthAdjust="spacingAndGlyphs">140W</text>
<text class="lab" x="431.5" y="462.1" font-size="15.2" textLength="33.5" lengthAdjust="spacingAndGlyphs">120W</text>
<text class="lab" x="508.2" y="462.1" font-size="15.2" textLength="33.2" lengthAdjust="spacingAndGlyphs">100W</text>
<text class="lab" x="587.8" y="462.1" font-size="15.2" textLength="26.0" lengthAdjust="spacingAndGlyphs">80W</text>
<text class="lab" x="664.7" y="462.1" font-size="15.2" textLength="25.7" lengthAdjust="spacingAndGlyphs">60W</text>
<text class="ttl" x="141.6" y="156.6" font-size="23.8" textLength="81.4" lengthAdjust="spacingAndGlyphs">Rainfall</text>
<text class="ttl" x="235.0" y="156.6" font-size="23.8" textLength="80.9" lengthAdjust="spacingAndGlyphs">(7-day</text>
<text class="ttl" x="330.6" y="156.6" font-size="23.8" textLength="90.5" lengthAdjust="spacingAndGlyphs">accum.)</text>
<text class="ttl" x="433.6" y="156.6" font-size="23.8" textLength="62.0" lengthAdjust="spacingAndGlyphs">[mm]</text>
<text class="ttl" x="511.4" y="156.6" font-size="23.8" textLength="165.2" lengthAdjust="spacingAndGlyphs">13Z10Aug2018</text>
<text class="thin" x="214.8" y="288.8" font-size="28.8" textLength="77.5" lengthAdjust="spacingAndGlyphs">Entire</text>
<text class="thin" x="310.1" y="288.8" font-size="28.8" textLength="53.2" lengthAdjust="spacingAndGlyphs">Grid</text>
<text class="thin" x="380.3" y="288.8" font-size="28.8" textLength="137.7" lengthAdjust="spacingAndGlyphs">Undefined</text>
<g shape-rendering="crispEdges">
<polygon points="306,535.3 363.5,528.5 363.5,541.5" fill="#aaaaaa" stroke="#000" stroke-width="1"/>
<polygon points="478,535.3 420.5,528.5 420.5,541.5" fill="#aaaaaa" stroke="#000" stroke-width="1"/>
<rect x="363.5" y="528.5" width="57" height="13" fill="#fff" stroke="#000" stroke-width="1"/>
</g>
<text class="lab" x="337.6" y="556.2" font-size="12.8" textLength="51.6" lengthAdjust="spacingAndGlyphs">177.366</text>
<text class="lab" x="375.8" y="556.2" font-size="12.8" textLength="89.2" lengthAdjust="spacingAndGlyphs">1.77366e+06</text>
<text class="lab" x="459.2" y="556.2" font-size="12.8" textLength="36.4" lengthAdjust="spacingAndGlyphs">[mm]</text>
</g>
</svg>
</body>
</html>
